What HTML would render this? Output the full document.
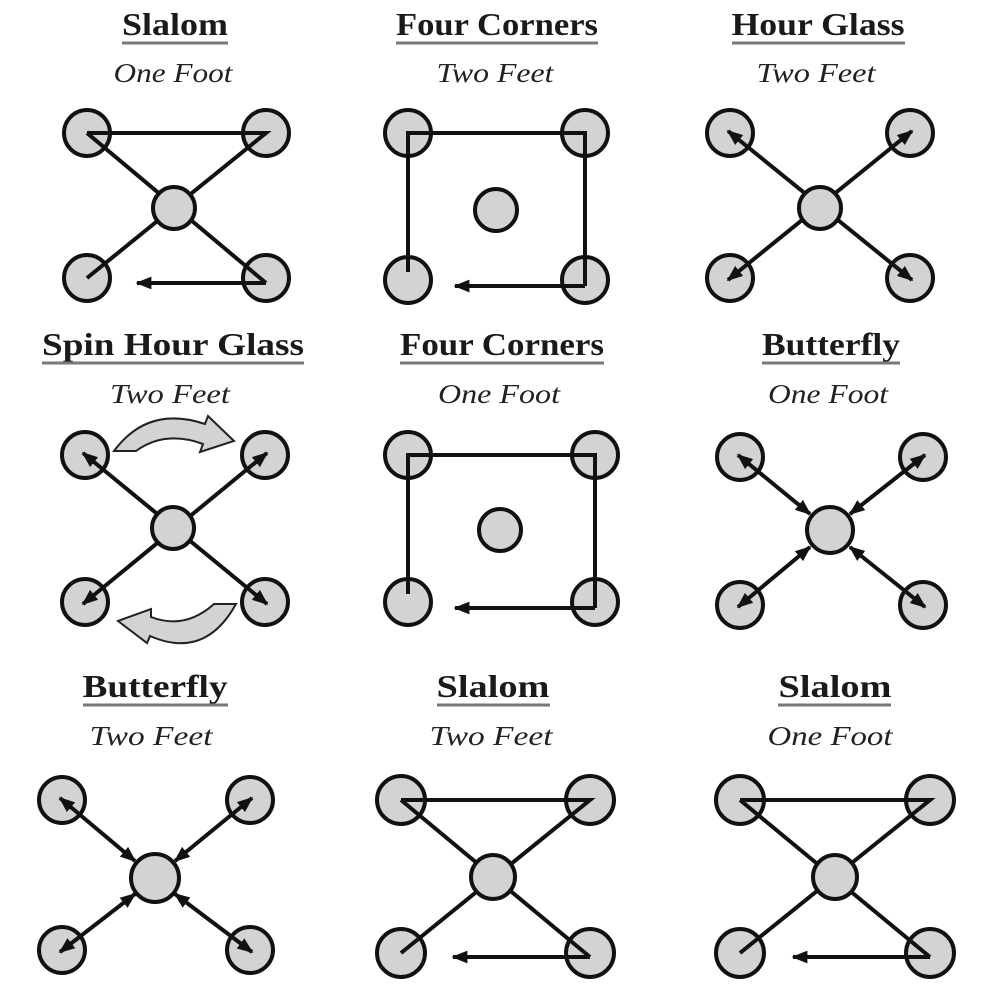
<!DOCTYPE html>
<html><head><meta charset="utf-8"><style>
html,body{margin:0;padding:0;background:#fff;}
svg{display:block;}
.t{font-family:"Liberation Serif",serif;font-weight:bold;font-size:32px;fill:#1a1a1a;text-anchor:middle;}
.s{font-family:"Liberation Serif",serif;font-style:italic;font-size:27px;fill:#222;text-anchor:middle;}
.u{stroke:#777;stroke-width:3;}
.c{fill:#d3d3d3;stroke:#111;stroke-width:4;}
.l{stroke:#111;stroke-width:4;fill:none;}
</style></head><body>
<svg width="1000" height="1000" viewBox="0 0 1000 1000" xmlns="http://www.w3.org/2000/svg">
<defs>
<marker id="a" viewBox="0 0 10 10" refX="9" refY="5" markerWidth="4" markerHeight="4" orient="auto-start-reverse" markerUnits="strokeWidth">
<path d="M0,1 L10,5 L0,9 Z" fill="#111"/></marker>
</defs>

<text class="t" x="175" y="35" textLength="106" lengthAdjust="spacingAndGlyphs">Slalom</text>
<line class="u" x1="122" y1="43" x2="228" y2="43"/>
<text class="s" x="173" y="82" textLength="119" lengthAdjust="spacingAndGlyphs">One Foot</text>

<text class="t" x="497" y="35" textLength="202" lengthAdjust="spacingAndGlyphs">Four Corners</text>
<line class="u" x1="396" y1="43" x2="598" y2="43"/>
<text class="s" x="495" y="82" textLength="117" lengthAdjust="spacingAndGlyphs">Two Feet</text>

<text class="t" x="818" y="35" textLength="173" lengthAdjust="spacingAndGlyphs">Hour Glass</text>
<line class="u" x1="732" y1="43" x2="905" y2="43"/>
<text class="s" x="816" y="82" textLength="119" lengthAdjust="spacingAndGlyphs">Two Feet</text>

<text class="t" x="173" y="355" textLength="262" lengthAdjust="spacingAndGlyphs">Spin Hour Glass</text>
<line class="u" x1="42" y1="363" x2="304" y2="363"/>
<text class="s" x="170" y="403" textLength="120" lengthAdjust="spacingAndGlyphs">Two Feet</text>

<text class="t" x="502" y="355" textLength="204" lengthAdjust="spacingAndGlyphs">Four Corners</text>
<line class="u" x1="400" y1="363" x2="604" y2="363"/>
<text class="s" x="499" y="403" textLength="122" lengthAdjust="spacingAndGlyphs">One Foot</text>

<text class="t" x="831" y="355" textLength="138" lengthAdjust="spacingAndGlyphs">Butterfly</text>
<line class="u" x1="762" y1="363" x2="900" y2="363"/>
<text class="s" x="828" y="403" textLength="120" lengthAdjust="spacingAndGlyphs">One Foot</text>

<text class="t" x="155" y="697" textLength="145" lengthAdjust="spacingAndGlyphs">Butterfly</text>
<line class="u" x1="83" y1="705" x2="228" y2="705"/>
<text class="s" x="151" y="745" textLength="123" lengthAdjust="spacingAndGlyphs">Two Feet</text>

<text class="t" x="493" y="697" textLength="113" lengthAdjust="spacingAndGlyphs">Slalom</text>
<line class="u" x1="437" y1="705" x2="550" y2="705"/>
<text class="s" x="491" y="745" textLength="123" lengthAdjust="spacingAndGlyphs">Two Feet</text>

<text class="t" x="835" y="697" textLength="113" lengthAdjust="spacingAndGlyphs">Slalom</text>
<line class="u" x1="778" y1="705" x2="891" y2="705"/>
<text class="s" x="830" y="745" textLength="125" lengthAdjust="spacingAndGlyphs">One Foot</text>

<!-- Panel 1 -->
<g>
<circle class="c" cx="87" cy="133" r="23"/><circle class="c" cx="266" cy="133" r="23"/>
<circle class="c" cx="87" cy="278" r="23"/><circle class="c" cx="266" cy="278" r="23"/>
<path class="l" d="M87,133 L266,133 L87,278"/>
<path class="l" d="M87,133 L266,283"/>
<path class="l" d="M266,283 L137,283" marker-end="url(#a)"/>
<circle class="c" cx="174" cy="208" r="21"/>
</g>

<!-- Panel 2 -->
<g>
<circle class="c" cx="408" cy="133" r="23"/><circle class="c" cx="585" cy="133" r="23"/>
<circle class="c" cx="408" cy="280" r="23"/><circle class="c" cx="585" cy="280" r="23"/>
<circle class="c" cx="496" cy="210" r="21"/>
<path class="l" d="M408,272 L408,133 L585,133 L585,286"/>
<path class="l" d="M585,286 L455,286" marker-end="url(#a)"/>
</g>

<!-- Panel 3 -->
<g>
<circle class="c" cx="730" cy="133" r="23"/><circle class="c" cx="910" cy="133" r="23"/>
<circle class="c" cx="730" cy="278" r="23"/><circle class="c" cx="910" cy="278" r="23"/>
<path class="l" d="M728,131 L912,280" marker-start="url(#a)" marker-end="url(#a)"/>
<path class="l" d="M912,131 L728,280" marker-start="url(#a)" marker-end="url(#a)"/>
<circle class="c" cx="820" cy="208" r="21"/>
</g>

<!-- Panel 4 -->
<g>
<circle class="c" cx="85" cy="455" r="23"/><circle class="c" cx="265" cy="455" r="23"/>
<circle class="c" cx="85" cy="602" r="23"/><circle class="c" cx="265" cy="602" r="23"/>
<path class="l" d="M83,453 L267,604" marker-start="url(#a)" marker-end="url(#a)"/>
<path class="l" d="M267,453 L83,604" marker-start="url(#a)" marker-end="url(#a)"/>
<circle class="c" cx="173" cy="528" r="21"/>
<path d="M114,451 Q148,405 205,424 L208,416 L234,441 L200,452 L203,444 Q165,430 136,451 Z" fill="#d3d3d3" stroke="#222" stroke-width="2"/>
<path d="M236,604 Q205,660 150,636 L147,643 L118,621 L151,609 L151,617 Q185,630 214,604 Z" fill="#d3d3d3" stroke="#222" stroke-width="2"/>
</g>

<!-- Panel 5 -->
<g>
<circle class="c" cx="408" cy="455" r="23"/><circle class="c" cx="595" cy="455" r="23"/>
<circle class="c" cx="408" cy="602" r="23"/><circle class="c" cx="595" cy="602" r="23"/>
<circle class="c" cx="500" cy="530" r="21"/>
<path class="l" d="M408,594 L408,455 L595,455 L595,608"/>
<path class="l" d="M595,608 L455,608" marker-end="url(#a)"/>
</g>

<!-- Panel 6 -->
<g>
<circle class="c" cx="740" cy="457" r="23"/><circle class="c" cx="923" cy="457" r="23"/>
<circle class="c" cx="740" cy="605" r="23"/><circle class="c" cx="923" cy="605" r="23"/>
<circle class="c" cx="830" cy="530" r="23"/>
<path class="l" d="M738,455 L810,514" marker-start="url(#a)" marker-end="url(#a)"/>
<path class="l" d="M925,455 L850,514" marker-start="url(#a)" marker-end="url(#a)"/>
<path class="l" d="M738,607 L810,547" marker-start="url(#a)" marker-end="url(#a)"/>
<path class="l" d="M925,607 L850,547" marker-start="url(#a)" marker-end="url(#a)"/>
</g>

<!-- Panel 7 -->
<g>
<circle class="c" cx="62" cy="800" r="23"/><circle class="c" cx="250" cy="800" r="23"/>
<circle class="c" cx="62" cy="950" r="23"/><circle class="c" cx="250" cy="950" r="23"/>
<circle class="c" cx="155" cy="878" r="24"/>
<path class="l" d="M60,798 L135,861" marker-start="url(#a)" marker-end="url(#a)"/>
<path class="l" d="M252,798 L175,861" marker-start="url(#a)" marker-end="url(#a)"/>
<path class="l" d="M60,952 L135,894" marker-start="url(#a)" marker-end="url(#a)"/>
<path class="l" d="M252,952 L175,894" marker-start="url(#a)" marker-end="url(#a)"/>
</g>

<!-- Panel 8 -->
<g>
<circle class="c" cx="401" cy="800" r="24"/><circle class="c" cx="590" cy="800" r="24"/>
<circle class="c" cx="401" cy="953" r="24"/><circle class="c" cx="590" cy="953" r="24"/>
<path class="l" d="M401,800 L590,800 L401,953"/>
<path class="l" d="M401,800 L590,957"/>
<path class="l" d="M590,957 L453,957" marker-end="url(#a)"/>
<circle class="c" cx="493" cy="877" r="22"/>
</g>

<!-- Panel 9 -->
<g>
<circle class="c" cx="740" cy="800" r="24"/><circle class="c" cx="930" cy="800" r="24"/>
<circle class="c" cx="740" cy="953" r="24"/><circle class="c" cx="930" cy="953" r="24"/>
<path class="l" d="M740,800 L930,800 L740,953"/>
<path class="l" d="M740,800 L930,957"/>
<path class="l" d="M930,957 L793,957" marker-end="url(#a)"/>
<circle class="c" cx="835" cy="877" r="22"/>
</g>
</svg>
</body></html>
